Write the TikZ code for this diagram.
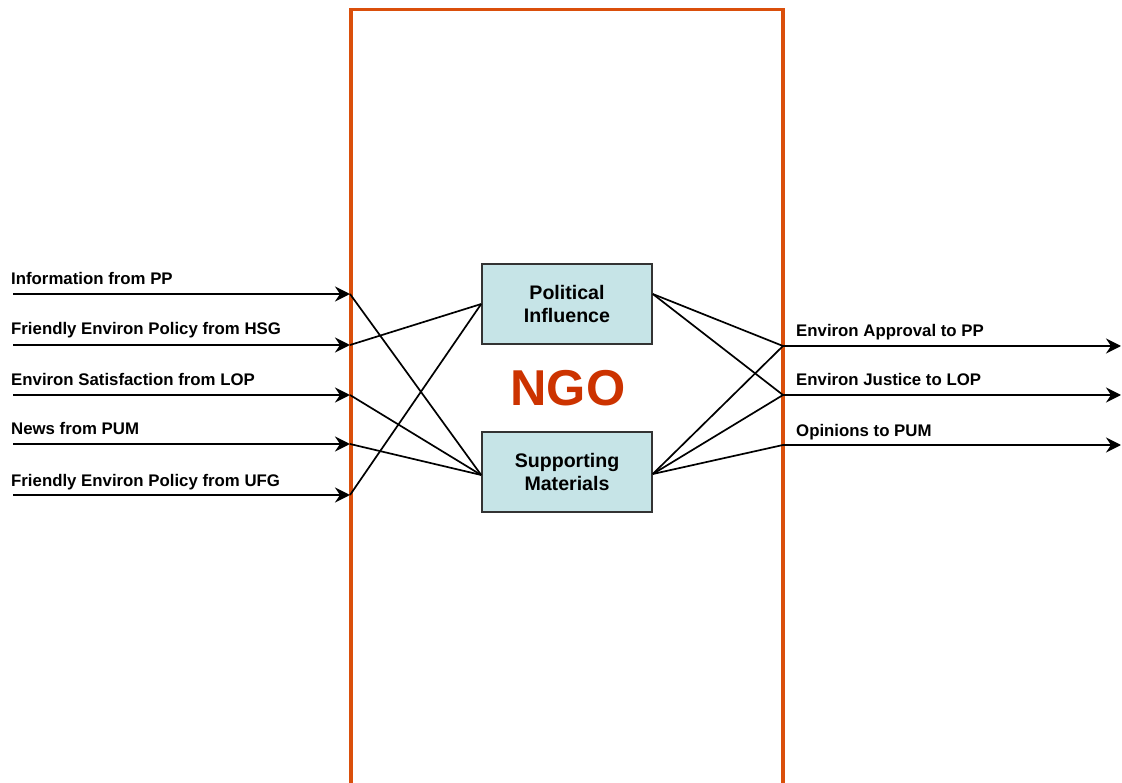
\documentclass[tikz,border=0pt]{standalone}
\usepackage{fontspec}
\setmainfont{Liberation Sans}
\usetikzlibrary{arrows.meta}
\definecolor{ngoframe}{HTML}{DA4F0B}
\definecolor{ngotext}{HTML}{CC3300}
\definecolor{procfill}{HTML}{C6E4E7}
\definecolor{procline}{HTML}{333333}
\begin{document}
\begin{tikzpicture}[x=1pt,y=-1pt,
  flowlabel/.style={anchor=base west, inner sep=0pt, font=\fontsize{16.8}{20}\selectfont\bfseries},
  process/.style={draw=procline, line width=1.6pt, fill=procfill, minimum width=170pt,
    minimum height=80pt, inner sep=0pt, align=center,
    font=\fontsize{19.6}{23.5}\selectfont\bfseries},
  flowarrow/.style={line width=2.5pt, -{Stealth[length=15pt,width=15pt,inset=5pt]}},
  link/.style={line width=1.7pt, black}]
\useasboundingbox (0,0) rectangle (1122,783);

% NGO boundary (open at the bottom)
\draw[ngoframe, line width=3.5pt] (351,790) -- (351,9.5) -- (783,9.5) -- (783,790);

% inner processes
\node[process] (pi) at (567,304) {Political\\Influence};
\node[process] (sm) at (567,472) {Supporting\\Materials};
\node[text=ngotext, font=\fontsize{50.4}{56}\selectfont\bfseries, inner sep=0pt] (ngo) at (568,388) {NGO};

% input ports on the left boundary
\coordinate (inA) at (350,294);
\coordinate (inB) at (350,345);
\coordinate (inC) at (350,395);
\coordinate (inD) at (350,444);
\coordinate (inE) at (350,495);
\coordinate (srcA) at (13,294);
\coordinate (srcB) at (13,345);
\coordinate (srcC) at (13,395);
\coordinate (srcD) at (13,444);
\coordinate (srcE) at (13,495);

% output ports on the right boundary
\coordinate (outA) at (783,346);
\coordinate (outB) at (783,395);
\coordinate (outC) at (783,445);
\coordinate (dstA) at (1121,346);
\coordinate (dstB) at (1121,395);
\coordinate (dstC) at (1121,445);

% incoming flows
\draw[flowarrow] (srcA) -- (inA);
\draw[flowarrow] (srcB) -- (inB);
\draw[flowarrow] (srcC) -- (inC);
\draw[flowarrow] (srcD) -- (inD);
\draw[flowarrow] (srcE) -- (inE);
\node[flowlabel] (lA) at (11,285) {Information from PP};
\node[flowlabel] (lB) at (11,335) {Friendly Environ Policy from HSG};
\node[flowlabel] (lC) at (11,386) {Environ Satisfaction from LOP};
\node[flowlabel] (lD) at (11,435) {News from PUM};
\node[flowlabel] (lE) at (11,486) {Friendly Environ Policy from UFG};

% outgoing flows
\draw[flowarrow] (outA) -- (dstA);
\draw[flowarrow] (outB) -- (dstB);
\draw[flowarrow] (outC) -- (dstC);
\node[flowlabel] (rA) at (796,337) {Environ Approval to PP};
\node[flowlabel] (rB) at (796,386) {Environ Justice to LOP};
\node[flowlabel] (rC) at (796,436) {Opinions to PUM};

% internal links, input side
\draw[link] (inA) -- ([yshift=-3pt]sm.west);
\draw[link] (inB) -- (pi.west);
\draw[link] (inC) -- ([yshift=-3pt]sm.west);
\draw[link] (inD) -- ([yshift=-3pt]sm.west);
\draw[link] (inE) -- (pi.west);

% internal links, output side
\draw[link] ([yshift=10pt]pi.east) -- (outA);
\draw[link] ([yshift=10pt]pi.east) -- (outB);
\draw[link] ([yshift=-2pt]sm.east) -- (outA);
\draw[link] ([yshift=-2pt]sm.east) -- (outB);
\draw[link] ([yshift=-2pt]sm.east) -- (outC);
\end{tikzpicture}
\end{document}
